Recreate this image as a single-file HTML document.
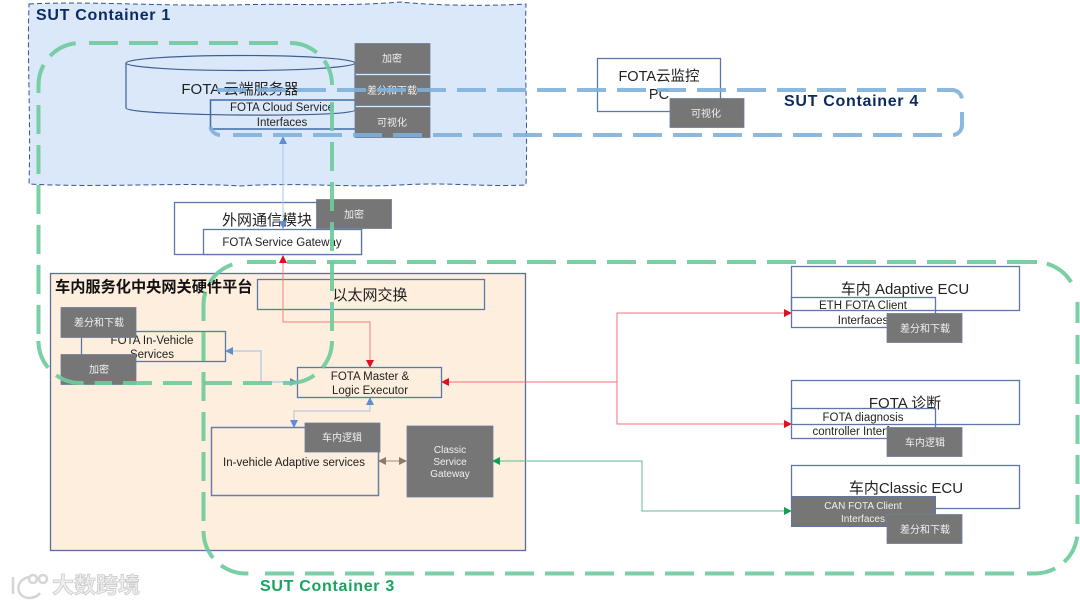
<!DOCTYPE html>
<html><head><meta charset="utf-8"><style>
html,body{margin:0;padding:0;background:#fff;width:1080px;height:605px;overflow:hidden}
svg{display:block;filter:blur(.35px)}
text{font-family:"Liberation Sans","Noto Sans CJK SC",sans-serif;text-anchor:middle;fill:#222}
.w{fill:#f0f0f0;font-size:10px}
.g{fill:#767676;stroke:#6f7f99;stroke-width:.8}
.b{fill:#fff;stroke:#5b78a8;stroke-width:1.3}
.n{fill:none;stroke:#5b78a8;stroke-width:1.3}
.s{font-size:11.5px}
.l{font-size:15px}
.sut{text-anchor:start;font-size:16px;font-weight:bold;letter-spacing:.7px}
.gd{fill:none;stroke:#6fcb9c;stroke-width:4;stroke-dasharray:29 11;opacity:.92}
.bd{fill:none;stroke:#7eb0da;stroke-width:4;stroke-dasharray:29 11;opacity:.9}
</style></head><body>
<svg width="1080" height="605" viewBox="0 0 1080 605" xmlns="http://www.w3.org/2000/svg">
<defs>
<marker id="r" markerWidth="8" markerHeight="8" refX="7" refY="4" orient="auto-start-reverse" markerUnits="userSpaceOnUse"><path d="M0,0L8,4L0,8z" fill="#e01020"/></marker>
<marker id="bl" markerWidth="8" markerHeight="8" refX="7" refY="4" orient="auto-start-reverse" markerUnits="userSpaceOnUse"><path d="M0,0L8,4L0,8z" fill="#5f8dd3"/></marker>
<marker id="gr" markerWidth="8" markerHeight="8" refX="7" refY="4" orient="auto-start-reverse" markerUnits="userSpaceOnUse"><path d="M0,0L8,4L0,8z" fill="#12a150"/></marker>
<marker id="br" markerWidth="8" markerHeight="8" refX="7" refY="4" orient="auto-start-reverse" markerUnits="userSpaceOnUse"><path d="M0,0L8,4L0,8z" fill="#8c7b6a"/></marker>
</defs>

<path d="M29,4 C90,1 150,6 230,5 C300,3 340,7 400,2 C440,6 490,6 526,4 C524,60 528,120 526,185 C480,187 450,182 400,185 C350,188 300,182 240,186 C180,182 100,188 29,184 C31,120 27,60 29,4Z" fill="#dbe8f9" stroke="#2f5597" stroke-width="1" stroke-dasharray="5 3"/>
<text x="36" y="20" class="sut" style="fill:#0c2a66">SUT Container 1</text>

<rect x="50.500" y="273.500" width="475" height="277" fill="#fdeede" stroke="#5b6f9a" stroke-width="1.300"/>
<text x="55" y="292" style="text-anchor:start;font-size:15.200px;font-weight:bold;fill:#111">车内服务化中央网关硬件平台</text>

<path d="M126,63V108C126,116 355,118 355,110V63" fill="#dbe8f9" stroke="#3f5f94" stroke-width="1.200"/>
<ellipse cx="240.500" cy="63" rx="114.500" ry="7.500" fill="#dbe8f9" stroke="#3f5f94" stroke-width="1.200"/>
<text x="240" y="94" class="l">FOTA 云端服务器</text>
<path d="M355,100H210.500V129H355" fill="none" stroke="#3f6aa8" stroke-width="1.500"/>
<text x="282" y="111" class="s">FOTA Cloud Service</text>
<text x="282" y="126" class="s">Interfaces</text>
<rect x="355" y="43.500" width="75" height="30" class="g"/><text x="392" y="62" class="w">加密</text>
<rect x="355" y="75.500" width="75" height="30" class="g"/><text x="392" y="94" class="w">差分和下载</text>
<rect x="355" y="107.500" width="75" height="30" class="g"/><text x="392" y="126" class="w">可视化</text>

<rect x="597.500" y="58.500" width="123" height="53" class="b"/>
<text x="659" y="81" style="font-size:14.500px">FOTA云监控</text>
<text x="659" y="99" style="font-size:14.500px">PC</text>
<rect x="670" y="98.500" width="74" height="29" class="g"/><text x="706" y="117" class="w">可视化</text>
<text x="784" y="106" class="sut" style="fill:#0c2a5e">SUT Container 4</text>

<rect x="174.500" y="202.500" width="187" height="52" class="b"/>
<rect x="203.500" y="229.500" width="158" height="25" class="b"/>
<text x="267" y="225" class="l">外网通信模块</text>
<text x="282" y="246" class="s">FOTA Service Gateway</text>
<rect x="316.500" y="199.500" width="75" height="29" class="g"/><text x="354" y="218" class="w">加密</text>

<rect x="257.500" y="279.500" width="227" height="30" class="n"/>
<text x="370" y="300" class="l">以太网交换</text>

<path d="M283,137V228" fill="none" stroke="#a9c6ee" stroke-width="1" marker-start="url(#bl)" marker-end="url(#bl)"/>
<path d="M283,256V322H370V367" fill="none" stroke="#f08080" stroke-width="1" marker-start="url(#r)" marker-end="url(#r)"/>
<path d="M297,382H261V351H226" fill="none" stroke="#9dbbe6" stroke-width="1" marker-start="url(#bl)" marker-end="url(#bl)"/>
<path d="M370,398V411H294V427" fill="none" stroke="#b3bfe0" stroke-width="1" marker-start="url(#bl)" marker-end="url(#bl)"/>
<path d="M379,461H406" fill="none" stroke="#9c8c7c" stroke-width="1" marker-start="url(#br)" marker-end="url(#br)"/>
<path d="M442,382H617V313H791M617,382V424H791" fill="none" stroke="#f0707a" stroke-width="1"/>
<path d="M442,382H450" fill="none" stroke="#f0707a" stroke-width="1" marker-start="url(#r)"/>
<path d="M780,313H791" fill="none" stroke="#f0707a" stroke-width="1" marker-end="url(#r)"/>
<path d="M780,424H791" fill="none" stroke="#f0707a" stroke-width="1" marker-end="url(#r)"/>
<path d="M493,461H642V511H791" fill="none" stroke="#5dbf8c" stroke-width="1" marker-start="url(#gr)" marker-end="url(#gr)"/>

<rect x="81.500" y="331.500" width="144" height="30" fill="#fdeede" stroke="#5b78a8" stroke-width="1.300"/>
<text x="152" y="344" class="s">FOTA In-Vehicle</text>
<text x="152" y="358" class="s">Services</text>
<rect x="61" y="307.500" width="75" height="30" class="g"/><text x="99" y="326" class="w">差分和下载</text>
<rect x="61" y="354.500" width="75" height="30" class="g"/><text x="99" y="373" class="w">加密</text>

<rect x="297.500" y="367.500" width="144" height="30" fill="#fdeede" stroke="#5b78a8" stroke-width="1.300"/>
<text x="370" y="380" class="s">FOTA Master &amp;</text>
<text x="370" y="394" class="s">Logic Executor</text>

<rect x="211.500" y="427.500" width="167" height="68" fill="#fdeede" stroke="#6a7ea8" stroke-width="1.500"/>
<text x="294" y="466" class="s">In-vehicle Adaptive services</text>
<rect x="305" y="423" width="75" height="29" class="g"/><text x="342" y="441" class="w">车内逻辑</text>
<rect x="407" y="426" width="86" height="71" class="g"/>
<text x="450" y="453" class="w">Classic</text><text x="450" y="465" class="w">Service</text><text x="450" y="477" class="w">Gateway</text>

<rect x="791.500" y="266.500" width="228" height="44" fill="none" stroke="#5b78a8" stroke-width="1.300"/>
<text x="905" y="294" class="l">车内 Adaptive ECU</text>
<rect x="791.500" y="297.500" width="144" height="30" fill="none" stroke="#5b78a8" stroke-width="1.300"/>
<text x="863" y="309" class="s">ETH FOTA Client</text>
<text x="863" y="324" class="s">Interfaces</text>
<rect x="887" y="313.500" width="75" height="29" class="g"/><text x="925" y="332" class="w">差分和下载</text>

<rect x="791.500" y="380.500" width="228" height="44" fill="none" stroke="#5b78a8" stroke-width="1.300"/>
<text x="905" y="408" class="l">FOTA 诊断</text>
<rect x="791.500" y="408.500" width="144" height="30" fill="none" stroke="#5b78a8" stroke-width="1.300"/>
<text x="863" y="421" class="s">FOTA diagnosis</text>
<text x="863" y="435" class="s">controller Interfaces</text>
<rect x="887" y="427.500" width="75" height="29" class="g"/><text x="925" y="446" class="w">车内逻辑</text>

<rect x="791.500" y="465.500" width="228" height="43" fill="none" stroke="#5b78a8" stroke-width="1.300"/>
<text x="906" y="493" class="l">车内Classic ECU</text>
<rect x="791.500" y="496.500" width="144" height="30" fill="#767676" stroke="#5b78a8" stroke-width="1"/>
<text x="863" y="509" class="w">CAN FOTA Client</text>
<text x="863" y="522" class="w">Interfaces</text>
<rect x="887" y="514.500" width="75" height="29" class="g"/><text x="925" y="533" class="w">差分和下载</text>

<!-- Container 2 (upper-left green) -->
<path class="gd" d="M89,43H279"/>
<path class="gd" d="M290,43A42,42 0 0 1 332,85"/>
<path class="gd" d="M332,102V331"/>
<path class="gd" d="M332,341A42,42 0 0 1 290,383"/>
<path class="gd" d="M123,383H290"/>
<path class="gd" d="M38.500,341A42,42 0 0 0 80.500,383H112"/>
<path class="gd" d="M38.500,105V334"/>
<path class="gd" d="M38.500,93V85A42,42 0 0 1 80.500,43"/>

<!-- Container 3 -->
<path class="gd" d="M247,262H1036"/>
<path class="gd" style="stroke-dasharray:2 10 31 21 40" d="M1035,262A42.500,42.500 0 0 1 1077.500,304.500V323"/>
<path class="gd" d="M1077.500,335V524"/>
<path class="gd" d="M1027,573.500H1035A42.500,42.500 0 0 0 1077.500,531"/>
<path class="gd" d="M265,573.500H1016"/>
<path class="gd" d="M203.500,531A42.500,42.500 0 0 0 246,573.500H253"/>
<path class="gd" d="M203.500,521V304.500A42.500,42.500 0 0 1 234,264"/>

<!-- Container 4 -->
<path class="bd" d="M217,90H952A10,10 0 0 1 962,100"/>
<path class="bd" style="stroke-dasharray:none" d="M962,112V125A10,10 0 0 1 953,135"/>
<path class="bd" d="M233,135H943"/>
<path class="bd" style="stroke-dasharray:none" d="M210.500,127A10,10 0 0 0 220,135"/>

<text x="260" y="591" class="sut" style="fill:#17a45f">SUT Container 3</text>

<g fill="none" stroke="#d6d6d6" stroke-width="2.500">
<path d="M13,577V594"/><path d="M29,577C15,580 15,596 28,598C34,598 38,596 40,593"/>
<circle cx="33" cy="579" r="4"/><circle cx="43" cy="579" r="4"/>
</g>
<text x="52" y="593" style="text-anchor:start;font-size:22px;font-weight:bold;fill:#eee;stroke:#c8c8c8;stroke-width:.7">大数跨境</text>
</svg>
</body></html>
